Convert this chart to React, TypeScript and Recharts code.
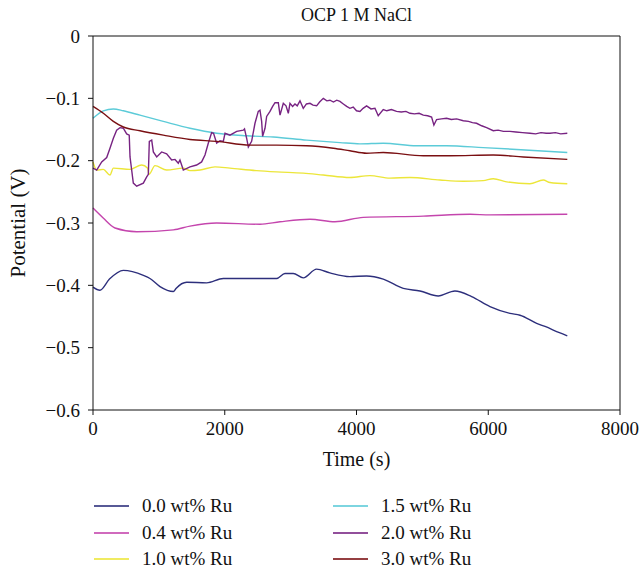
import { LineChart, Line, XAxis, YAxis, ReferenceLine } from "recharts";

const xTicks = [0, 2000, 4000, 6000, 8000];
const yTicks = [-0.6, -0.5, -0.4, -0.3, -0.2, -0.1, 0];

// 0.0 wt% Ru
const t00 = [0, 105, 250, 460, 765, 865, 1017, 1220, 1260, 1422, 1725, 1978, 2788, 2914, 3040, 3192, 3394, 3596, 3900, 4153, 4406, 4710, 4963, 5241, 5494, 5748, 6026, 6330, 6482, 6735, 6862, 7080, 7200];
const v00 = [-0.403, -0.408, -0.39, -0.376, -0.384, -0.389, -0.402, -0.41, -0.405, -0.395, -0.396, -0.389, -0.389, -0.381, -0.381, -0.388, -0.374, -0.38, -0.386, -0.385, -0.39, -0.405, -0.409, -0.417, -0.409, -0.418, -0.434, -0.445, -0.448, -0.461, -0.466, -0.476, -0.481];

// 0.4 wt% Ru
const t04 = [0, 155, 334, 663, 1220, 1472, 1877, 2535, 2839, 3294, 3673, 4103, 5014, 5723, 6026, 7200];
const v04 = [-0.276, -0.292, -0.308, -0.314, -0.311, -0.305, -0.3, -0.302, -0.298, -0.294, -0.298, -0.291, -0.289, -0.286, -0.287, -0.286];

// 1.0 wt% Ru
const t10 = [0, 56, 157, 258, 309, 562, 739, 830, 850, 941, 1118, 1371, 1472, 1624, 1852, 2079, 2484, 2788, 3192, 3496, 3900, 4204, 4508, 4812, 5267, 5621, 5924, 6076, 6279, 6633, 6835, 6937, 7200];
const v10 = [-0.202, -0.215, -0.214, -0.223, -0.212, -0.214, -0.207, -0.212, -0.222, -0.208, -0.215, -0.212, -0.216, -0.215, -0.21, -0.212, -0.216, -0.218, -0.22, -0.223, -0.227, -0.224, -0.228, -0.227, -0.231, -0.233, -0.232, -0.229, -0.234, -0.237, -0.231, -0.235, -0.237];

// 1.5 wt% Ru
const t15 = [0, 157, 309, 460, 713, 1067, 1472, 1877, 2332, 2737, 3243, 3749, 4052, 4406, 4912, 5367, 5924, 6431, 7200];
const v15 = [-0.132, -0.12, -0.117, -0.12, -0.127, -0.137, -0.148, -0.156, -0.16, -0.162, -0.167, -0.171, -0.173, -0.172, -0.176, -0.176, -0.179, -0.182, -0.187];

// 2.0 wt% Ru (noisy)
const t20 = [0, 56, 132, 208, 258, 309, 359, 410, 460, 511, 550, 562, 587, 612, 663, 764, 815, 840, 855, 891, 916, 967, 1042, 1118, 1194, 1245, 1295, 1320, 1371, 1472, 1573, 1649, 1700, 1750, 1801, 1830, 1877, 1928, 1978, 2004, 2079, 2181, 2282, 2300, 2332, 2358, 2408, 2459, 2509, 2535, 2560, 2575, 2611, 2636, 2687, 2727, 2763, 2813, 2839, 2889, 2930, 2965, 2990, 3030, 3066, 3100, 3142, 3192, 3240, 3294, 3340, 3395, 3440, 3496, 3550, 3597, 3650, 3700, 3749, 3800, 3851, 3900, 3950, 4000, 4052, 4100, 4153, 4220, 4280, 4330, 4406, 4460, 4530, 4608, 4680, 4750, 4812, 4880, 4950, 5014, 5080, 5140, 5175, 5216, 5290, 5367, 5440, 5520, 5621, 5700, 5760, 5823, 5900, 5975, 6076, 6150, 6230, 6330, 6420, 6520, 6633, 6720, 6800, 6880, 6937, 7020, 7100, 7200];
const v20 = [-0.212, -0.215, -0.202, -0.195, -0.18, -0.164, -0.151, -0.147, -0.148, -0.157, -0.159, -0.194, -0.215, -0.236, -0.241, -0.236, -0.226, -0.222, -0.169, -0.167, -0.186, -0.194, -0.186, -0.189, -0.199, -0.198, -0.204, -0.199, -0.215, -0.21, -0.207, -0.202, -0.191, -0.172, -0.155, -0.156, -0.172, -0.168, -0.169, -0.156, -0.159, -0.153, -0.151, -0.149, -0.164, -0.178, -0.169, -0.14, -0.121, -0.119, -0.137, -0.161, -0.148, -0.129, -0.121, -0.113, -0.107, -0.107, -0.127, -0.108, -0.112, -0.124, -0.108, -0.113, -0.109, -0.112, -0.104, -0.116, -0.109, -0.108, -0.111, -0.112, -0.106, -0.1, -0.104, -0.103, -0.106, -0.103, -0.105, -0.109, -0.113, -0.116, -0.114, -0.12, -0.121, -0.116, -0.112, -0.117, -0.116, -0.128, -0.118, -0.12, -0.118, -0.121, -0.122, -0.121, -0.124, -0.125, -0.124, -0.127, -0.128, -0.13, -0.143, -0.134, -0.133, -0.132, -0.134, -0.133, -0.136, -0.137, -0.139, -0.14, -0.144, -0.147, -0.152, -0.151, -0.153, -0.153, -0.154, -0.155, -0.156, -0.157, -0.155, -0.156, -0.156, -0.155, -0.157, -0.156];

// 3.0 wt% Ru
const t30 = [0, 157, 309, 460, 713, 1067, 1472, 1877, 2383, 2788, 3243, 3648, 3900, 4153, 4406, 5014, 5419, 6076, 6532, 7200];
const v30 = [-0.113, -0.124, -0.137, -0.146, -0.152, -0.159, -0.166, -0.169, -0.175, -0.175, -0.176, -0.18, -0.184, -0.188, -0.187, -0.192, -0.192, -0.191, -0.194, -0.198];

const toPoints = (t: number[], v: number[]) => t.map((x, i) => ({ t: x, v: v[i] }));

const series = [
  { name: "0.0 wt% Ru", color: "#2d2f7c", data: toPoints(t00, v00), curve: "monotone" },
  { name: "0.4 wt% Ru", color: "#c445ad", data: toPoints(t04, v04), curve: "monotone" },
  { name: "1.0 wt% Ru", color: "#ece63a", data: toPoints(t10, v10), curve: "monotone" },
  { name: "1.5 wt% Ru", color: "#5ccbd8", data: toPoints(t15, v15), curve: "monotone" },
  { name: "2.0 wt% Ru", color: "#772382", data: toPoints(t20, v20), curve: "linear" },
  { name: "3.0 wt% Ru", color: "#7a0f12", data: toPoints(t30, v30), curve: "monotone" },
];

const font = "'Liberation Serif', 'Times New Roman', serif";
const tickStyle = { fontSize: 19, fill: "#111", fontFamily: font };

const fmtY = (v: number) => (v === 0 ? "0" : v.toFixed(1).replace("-", "\u2212"));

export default function App() {
  return (
    <div style={{ position: "absolute", left: 0, top: 0, width: 642, height: 569, background: "#fff", fontFamily: font, overflow: "hidden" }}>
      <div style={{ position: "absolute", top: 5, left: 93, width: 527, textAlign: "center", fontSize: 18, color: "#111" }}>
        OCP 1 M NaCl
      </div>
      <LineChart width={642} height={569} margin={{ top: 36, right: 22, left: 0, bottom: 99 }}>
        <XAxis
          type="number"
          dataKey="t"
          domain={[0, 8000]}
          ticks={xTicks}
          allowDuplicatedCategory={false}
          stroke="#111"
          tick={tickStyle}
          tickSize={5}
          tickMargin={7}
          height={60}
          label={{ value: "Time (s)", position: "insideBottom", offset: 4, style: { fontSize: 20, fill: "#111", fontFamily: font } }}
        />
        <YAxis
          type="number"
          domain={[-0.6, 0]}
          ticks={yTicks}
          tickFormatter={fmtY}
          stroke="#111"
          tick={tickStyle}
          tickSize={5}
          tickMargin={8}
          width={93}
          label={{ value: "Potential (V)", angle: -90, position: "insideLeft", offset: 18, style: { fontSize: 21, fill: "#111", fontFamily: font, textAnchor: "middle" } }}
        />
        <ReferenceLine y={0} stroke="#111" />
        <ReferenceLine x={8000} stroke="#111" />
        {series.map((s) => (
          <Line
            key={s.name}
            data={s.data}
            dataKey="v"
            name={s.name}
            type={s.curve as "monotone" | "linear"}
            stroke={s.color}
            strokeWidth={1.4}
            dot={false}
            isAnimationActive={false}
          />
        ))}
      </LineChart>
      {series.map((s, i) => {
        const col = i < 3 ? 0 : 1;
        const row = i % 3;
        return (
          <div
            key={s.name}
            style={{ position: "absolute", left: 94 + col * 239, top: 496 + row * 26.5, height: 20, display: "flex", alignItems: "center", fontSize: 19, lineHeight: "20px", color: "#111", whiteSpace: "nowrap" }}
          >
            <span style={{ display: "inline-block", width: 35, height: 0, borderTop: `2px solid ${s.color}`, marginRight: 13, opacity: 0.8 }} />
            {s.name}
          </div>
        );
      })}
    </div>
  );
}
